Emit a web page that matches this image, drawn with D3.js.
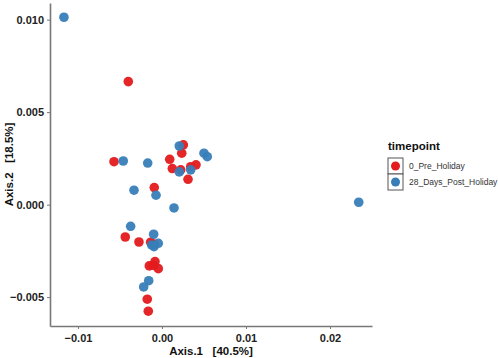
<!DOCTYPE html>
<html>
<head>
<meta charset="utf-8">
<script src="https://cdn.jsdelivr.net/npm/d3@7"></script>
<style>
  body { margin: 0; background: white; }
  .tick-label { font-family: Arial, "Liberation Sans", sans-serif; font-weight: bold; font-size: 11px; fill: #222; }
  .axis-title { font-family: Arial, "Liberation Sans", sans-serif; font-weight: bold; font-size: 11.5px; fill: #111; }
  .legend-label { font-family: Arial, "Liberation Sans", sans-serif; font-size: 8.5px; fill: #333; }
</style>
</head>
<body>
<div id="chart"></div>
<script>
// sample scores on the first two axes
var pre_x = [-0.00571, -0.00401, 0.00092, 0.00123, 0.00254, 0.00235, 0.00223, 0.00342, 0.00405, 0.00310,
  -0.00092, -0.00437, -0.00274, -0.00135, -0.00092, -0.00083, -0.00151, -0.00044, -0.00104, -0.00175, -0.00163];
var pre_y = [0.00232, 0.00665, 0.00245, 0.00195, 0.00323, 0.00278, 0.00188, 0.00205, 0.00215, 0.00137,
  0.00092, -0.00175, -0.00202, -0.00203, -0.00214, -0.00308, -0.00331, -0.00346, -0.00328, -0.00511, -0.00576];

var post_x = [-0.01167, -0.00461, -0.00170, 0.00206, 0.00206, 0.00342, 0.00500, 0.00539, -0.00333, -0.00071,
  0.00143, -0.00373, -0.00099, -0.00123, -0.00044, -0.00095, -0.00158, -0.00218, 0.02342];
var post_y = [0.01013, 0.00236, 0.00225, 0.00317, 0.00177, 0.00188, 0.00278, 0.00259, 0.00078, 0.00051,
  -0.00018, -0.00117, -0.00160, -0.00218, -0.00209, -0.00227, -0.00411, -0.00445, 0.00013];

var groups = ["0_Pre_Holiday", "28_Days_Post_Holiday"];
var colors = ["#E41A1C", "#377EB8"];
var xTicks = [-0.01, 0.00, 0.01, 0.02];
var yTicks = [-0.005, 0.000, 0.005, 0.010];

var W = 498, H = 358;
var margin = { left: 50, top: 3, right: 126, bottom: 32 };
var width = W - margin.left - margin.right;
var height = H - margin.top - margin.bottom;

var points = [];
pre_x.forEach(function (d, i) { points.push({ x: d, y: pre_y[i], g: 0 }); });
post_x.forEach(function (d, i) { points.push({ x: d, y: post_y[i], g: 1 }); });

var svg = d3.select("#chart").append("svg")
  .attr("width", W)
  .attr("height", H)
  .style("background", "white");

var g = svg.append("g")
  .attr("transform", "translate(" + margin.left + "," + margin.top + ")");

var xscale = d3.scaleLinear()
  .domain([-0.01333, 0.025])
  .range([0, width]);

var yscale = d3.scaleLinear()
  .domain([-0.00656, 0.0109])
  .range([height, 0]);

// x axis
var xAxis = g.append("g")
  .attr("transform", "translate(0," + height + ")")
  .call(d3.axisBottom(xscale).tickValues(xTicks).tickFormat(d3.format(".2f")).tickSize(3).tickSizeOuter(0));
xAxis.select(".domain").attr("stroke", "#777").attr("stroke-width", 1.6);
xAxis.selectAll(".tick line").attr("stroke", "#777");
xAxis.selectAll("text").attr("class", "tick-label").attr("dy", "0.95em");

// y axis
var yAxis = g.append("g")
  .call(d3.axisLeft(yscale).tickValues(yTicks).tickFormat(d3.format(".3f")).tickSize(3).tickSizeOuter(0));
yAxis.select(".domain").attr("stroke", "#777").attr("stroke-width", 1.6);
yAxis.selectAll(".tick line").attr("stroke", "#777");
yAxis.selectAll("text").attr("class", "tick-label").attr("x", -6);

// points
g.append("g")
  .selectAll("circle")
  .data(points)
  .enter().append("circle")
  .attr("cx", d => xscale(d.x))
  .attr("cy", d => yscale(d.y))
  .attr("r", 4.8)
  .attr("fill", d => colors[d.g])
  .attr("fill-opacity", 0.95);

// axis titles
svg.append("text")
  .attr("class", "axis-title")
  .attr("x", 211)
  .attr("y", 355)
  .attr("text-anchor", "middle")
  .attr("xml:space", "preserve")
  .text("Axis.1   [40.5%]");

svg.append("text")
  .attr("class", "axis-title")
  .attr("transform", "translate(13," + (margin.top + height / 2) + ")rotate(-90)")
  .attr("text-anchor", "middle")
  .attr("xml:space", "preserve")
  .text("Axis.2   [18.5%]");

// legend
var legend = svg.append("g").attr("transform", "translate(388,150)");
legend.append("text")
  .attr("class", "axis-title")
  .attr("x", 0)
  .attr("y", 0)
  .text("timepoint");

var keys = legend.selectAll(".key")
  .data(groups)
  .enter().append("g")
  .attr("transform", (d, i) => "translate(0," + (8 + i * 16) + ")");

keys.append("rect")
  .attr("width", 15)
  .attr("height", 16)
  .attr("fill", "white")
  .attr("stroke", "#555")
  .attr("stroke-width", 1);

keys.append("circle")
  .attr("cx", 7.5)
  .attr("cy", 8)
  .attr("r", 4.5)
  .attr("fill", (d, i) => colors[i]);

keys.append("text")
  .attr("class", "legend-label")
  .attr("x", 21)
  .attr("y", 11)
  .text(d => d);
</script>
</body>
</html>
